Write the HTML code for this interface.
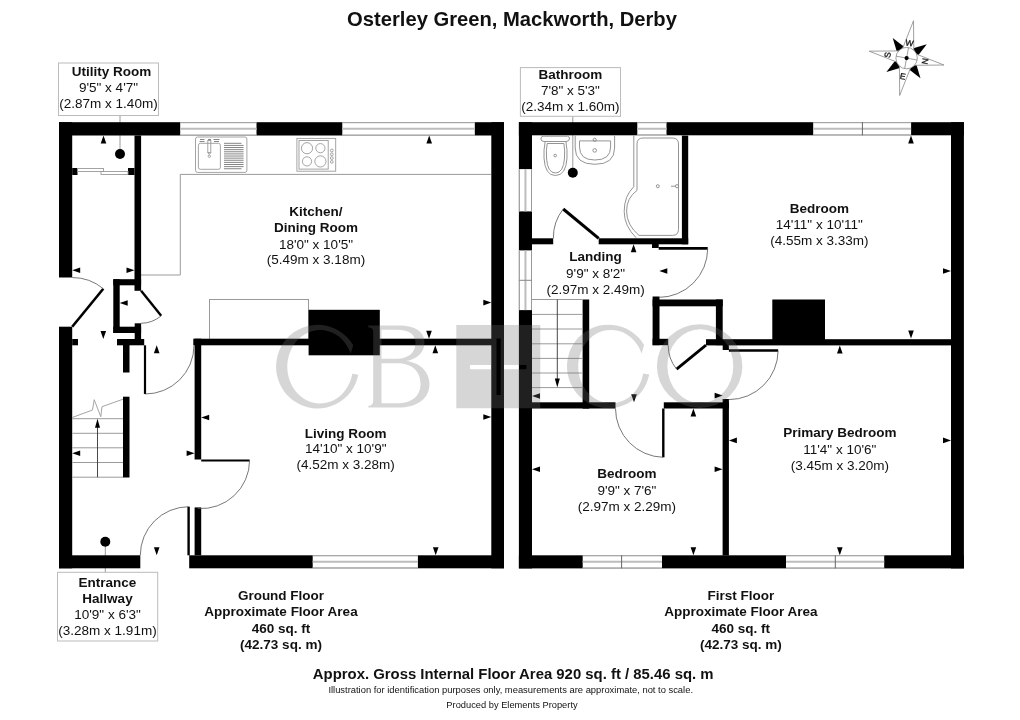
<!DOCTYPE html>
<html><head><meta charset="utf-8"><style>
html,body{margin:0;padding:0;background:#fff;width:1020px;height:720px;overflow:hidden}
svg{display:block;font-family:"Liberation Sans",sans-serif;will-change:transform}
</style></head><body>
<svg width="1020" height="720" viewBox="0 0 1020 720">
<rect width="1020" height="720" fill="#fff"/>
<line x1="572.8" y1="116.3" x2="572.8" y2="172.8" stroke="#9a9a9a" stroke-width="1"/>
<line x1="105.3" y1="541.7" x2="105.3" y2="572.3" stroke="#9a9a9a" stroke-width="1"/>
<line x1="120" y1="115.5" x2="120" y2="154" stroke="#9a9a9a" stroke-width="1"/>
<path d="M141,275 H180.3 V174.4 H491" fill="none" stroke="#9a9a9a" stroke-width="1"/>
<rect x="209.5" y="299.5" width="99" height="40" fill="none" stroke="#9a9a9a" stroke-width="1"/>
<rect x="59.00" y="122.20" width="445.00" height="13.30" fill="#000"/>
<rect x="59.00" y="122.20" width="13.20" height="155.30" fill="#000"/>
<rect x="59.00" y="326.70" width="13.20" height="241.60" fill="#000"/>
<rect x="59.00" y="555.30" width="81.30" height="13.00" fill="#000"/>
<rect x="189.20" y="555.30" width="314.80" height="13.00" fill="#000"/>
<rect x="491.30" y="122.20" width="12.70" height="446.10" fill="#000"/>
<rect x="180.20" y="122.20" width="76.30" height="13.30" fill="#fff"/>
<line x1="180.20" y1="122.70" x2="256.50" y2="122.70" stroke="#9a9a9a" stroke-width="1"/>
<line x1="180.20" y1="135.00" x2="256.50" y2="135.00" stroke="#9a9a9a" stroke-width="1"/>
<line x1="180.20" y1="128.85" x2="256.50" y2="128.85" stroke="#bdbdbd" stroke-width="2"/>
<rect x="342.30" y="122.20" width="132.50" height="13.30" fill="#fff"/>
<line x1="342.30" y1="122.70" x2="474.80" y2="122.70" stroke="#9a9a9a" stroke-width="1"/>
<line x1="342.30" y1="135.00" x2="474.80" y2="135.00" stroke="#9a9a9a" stroke-width="1"/>
<line x1="342.30" y1="128.85" x2="474.80" y2="128.85" stroke="#bdbdbd" stroke-width="2"/>
<rect x="312.70" y="555.30" width="105.20" height="13.00" fill="#fff"/>
<line x1="312.70" y1="555.80" x2="417.90" y2="555.80" stroke="#9a9a9a" stroke-width="1"/>
<line x1="312.70" y1="567.80" x2="417.90" y2="567.80" stroke="#9a9a9a" stroke-width="1"/>
<line x1="312.70" y1="561.80" x2="417.90" y2="561.80" stroke="#bdbdbd" stroke-width="2"/>
<rect x="134.50" y="135.50" width="6.60" height="155.30" fill="#000"/>
<rect x="72.20" y="168.00" width="5.30" height="7.00" fill="#000"/>
<rect x="128.00" y="168.00" width="6.50" height="7.00" fill="#000"/>
<rect x="113.30" y="279.20" width="27.80" height="6.10" fill="#000"/>
<rect x="113.30" y="279.20" width="6.40" height="53.80" fill="#000"/>
<rect x="113.30" y="326.70" width="27.80" height="6.30" fill="#000"/>
<rect x="134.70" y="323.30" width="6.40" height="15.70" fill="#000"/>
<rect x="117.00" y="339.00" width="27.20" height="6.30" fill="#000"/>
<rect x="123.00" y="345.00" width="6.50" height="27.50" fill="#000"/>
<rect x="72.20" y="339.00" width="5.80" height="6.30" fill="#000"/>
<rect x="123.00" y="396.70" width="6.50" height="80.80" fill="#000"/>
<rect x="193.30" y="338.70" width="310.70" height="6.60" fill="#000"/>
<rect x="194.60" y="338.70" width="6.60" height="120.80" fill="#000"/>
<rect x="194.60" y="507.40" width="6.60" height="47.90" fill="#000"/>
<rect x="308.60" y="309.80" width="71.20" height="45.50" fill="#000"/>
<rect x="77.5" y="168.5" width="26" height="3" fill="none" stroke="#9a9a9a" stroke-width="0.9"/>
<rect x="101" y="171.5" width="27" height="3" fill="none" stroke="#9a9a9a" stroke-width="0.9"/>
<line x1="72.20" y1="326.70" x2="103.30" y2="288.70" stroke="#000" stroke-width="2.6"/>
<path d="M103.30,288.70 A49.10,49.10 0 0 0 72.20,277.50" fill="none" stroke="#555" stroke-width="0.8"/>
<line x1="141.10" y1="290.80" x2="161.20" y2="315.80" stroke="#000" stroke-width="2.4"/>
<path d="M161.20,315.80 A32.08,32.08 0 0 1 141.10,323.30" fill="none" stroke="#555" stroke-width="0.8"/>
<line x1="145.00" y1="345.30" x2="145.00" y2="394.00" stroke="#000" stroke-width="2.2"/>
<path d="M145.00,394.00 A48.70,48.70 0 0 0 194.00,345.30" fill="none" stroke="#555" stroke-width="0.8"/>
<rect x="187.40" y="506.70" width="2.40" height="48.60" fill="#000"/>
<line x1="188.60" y1="555.30" x2="188.60" y2="506.70" stroke="#000" stroke-width="0.1"/>
<path d="M188.60,506.70 A48.60,48.60 0 0 0 140.30,555.30" fill="none" stroke="#555" stroke-width="0.8"/>
<line x1="201.20" y1="460.50" x2="249.60" y2="460.50" stroke="#000" stroke-width="2.2"/>
<path d="M249.60,460.50 A48.40,48.40 0 0 1 197.90,508.50" fill="none" stroke="#555" stroke-width="0.8"/>
<line x1="72.20" y1="418.70" x2="123.00" y2="418.70" stroke="#9a9a9a" stroke-width="1"/>
<line x1="72.20" y1="433.30" x2="123.00" y2="433.30" stroke="#9a9a9a" stroke-width="1"/>
<line x1="72.20" y1="447.80" x2="123.00" y2="447.80" stroke="#9a9a9a" stroke-width="1"/>
<line x1="72.20" y1="462.50" x2="123.00" y2="462.50" stroke="#9a9a9a" stroke-width="1"/>
<line x1="72.20" y1="477.20" x2="123.00" y2="477.20" stroke="#9a9a9a" stroke-width="1"/>
<polyline points="72.2,417.5 92.5,410 94.2,399.7 100.8,416.7 102,406.7 123,399.2" fill="none" stroke="#9a9a9a" stroke-width="0.9"/>
<line x1="97.50" y1="426.00" x2="97.50" y2="477.20" stroke="#333" stroke-width="0.9"/>
<polygon points="97.50,418.80 95.00,427.80 100.00,427.80" fill="#000"/>
<circle cx="120" cy="154" r="5" fill="#000"/>
<circle cx="105.3" cy="541.7" r="5" fill="#000"/>
<g fill="none" stroke="#9a9a9a" stroke-width="0.9">
<rect x="195.5" y="137" width="51.4" height="35.4" rx="2"/>
<rect x="198.4" y="143.3" width="22" height="26" rx="2"/>
<rect x="207.8" y="140.5" width="3" height="12" />
<path d="M207.8,152.5 L209.3,154.5 L210.8,152.5"/><circle cx="209.3" cy="156.2" r="1.2"/>
<path d="M199.5,141.5 h5 M200,139.5 h4.5 M208,139.5 h3 M213.5,139.5 h6 M214,141.5 h5" stroke="#888" stroke-width="1.2"/>
</g>
<g fill="none" stroke="#777" stroke-width="0.9">
<line x1="224" y1="143.30" x2="241.5" y2="143.30"/>
<line x1="224" y1="145.42" x2="243.6" y2="145.42"/>
<line x1="224" y1="147.54" x2="243.6" y2="147.54"/>
<line x1="224" y1="149.66" x2="243.6" y2="149.66"/>
<line x1="224" y1="151.78" x2="243.6" y2="151.78"/>
<line x1="224" y1="153.90" x2="243.6" y2="153.90"/>
<line x1="224" y1="156.02" x2="243.6" y2="156.02"/>
<line x1="224" y1="158.14" x2="243.6" y2="158.14"/>
<line x1="224" y1="160.26" x2="243.6" y2="160.26"/>
<line x1="224" y1="162.38" x2="243.6" y2="162.38"/>
<line x1="224" y1="164.50" x2="243.6" y2="164.50"/>
<line x1="224" y1="166.62" x2="243.6" y2="166.62"/>
<line x1="224" y1="168.74" x2="241.5" y2="168.74"/>
</g>
<g fill="none" stroke="#9a9a9a" stroke-width="0.9">
<rect x="296.9" y="138.4" width="38.8" height="32.8"/>
<rect x="299" y="140.5" width="29.2" height="28.6"/>
<circle cx="307" cy="148.2" r="5.6"/><circle cx="320.4" cy="148.2" r="4.6"/><circle cx="307" cy="161.4" r="4.6"/><circle cx="320.4" cy="161.4" r="5.6"/>
<circle cx="331.8" cy="150.5" r="1.4"/>
<circle cx="331.8" cy="154.3" r="1.4"/>
<circle cx="331.8" cy="158.1" r="1.4"/>
<circle cx="331.8" cy="161.9" r="1.4"/>
</g>
<polygon points="103.50,135.50 100.70,143.50 106.30,143.50" fill="#000"/>
<polygon points="72.20,270.30 80.20,267.50 80.20,273.10" fill="#000"/>
<polygon points="134.50,270.30 126.50,267.50 126.50,273.10" fill="#000"/>
<polygon points="119.70,303.00 127.70,300.20 127.70,305.80" fill="#000"/>
<polygon points="103.30,339.00 100.50,331.00 106.10,331.00" fill="#000"/>
<polygon points="156.70,345.30 153.90,353.30 159.50,353.30" fill="#000"/>
<polygon points="72.20,453.30 80.20,450.50 80.20,456.10" fill="#000"/>
<polygon points="194.60,453.30 186.60,450.50 186.60,456.10" fill="#000"/>
<polygon points="156.70,555.30 153.90,547.30 159.50,547.30" fill="#000"/>
<polygon points="429.20,135.50 426.40,143.50 432.00,143.50" fill="#000"/>
<polygon points="491.30,302.60 483.30,299.80 483.30,305.40" fill="#000"/>
<polygon points="429.00,338.70 426.20,330.70 431.80,330.70" fill="#000"/>
<polygon points="435.30,345.30 432.50,353.30 438.10,353.30" fill="#000"/>
<polygon points="201.20,417.50 209.20,414.70 209.20,420.30" fill="#000"/>
<polygon points="491.30,417.00 483.30,414.20 483.30,419.80" fill="#000"/>
<polygon points="435.70,555.30 432.90,547.30 438.50,547.30" fill="#000"/>
<rect x="518.90" y="122.20" width="445.00" height="13.10" fill="#000"/>
<rect x="518.90" y="122.20" width="13.10" height="446.20" fill="#000"/>
<rect x="518.90" y="555.30" width="445.00" height="13.10" fill="#000"/>
<rect x="951.00" y="122.20" width="12.90" height="446.20" fill="#000"/>
<rect x="637.30" y="122.20" width="29.20" height="13.10" fill="#fff"/>
<line x1="637.30" y1="122.70" x2="666.50" y2="122.70" stroke="#9a9a9a" stroke-width="1"/>
<line x1="637.30" y1="134.80" x2="666.50" y2="134.80" stroke="#9a9a9a" stroke-width="1"/>
<line x1="637.30" y1="128.75" x2="666.50" y2="128.75" stroke="#bdbdbd" stroke-width="2"/>
<rect x="813.20" y="122.20" width="97.90" height="13.10" fill="#fff"/>
<line x1="813.20" y1="122.70" x2="911.10" y2="122.70" stroke="#9a9a9a" stroke-width="1"/>
<line x1="813.20" y1="134.80" x2="911.10" y2="134.80" stroke="#9a9a9a" stroke-width="1"/>
<line x1="813.20" y1="128.75" x2="911.10" y2="128.75" stroke="#bdbdbd" stroke-width="2"/>
<line x1="862.40" y1="122.20" x2="862.40" y2="135.30" stroke="#666" stroke-width="1"/>
<rect x="518.90" y="169.10" width="13.10" height="42.30" fill="#fff"/>
<line x1="519.40" y1="169.10" x2="519.40" y2="211.40" stroke="#9a9a9a" stroke-width="1"/>
<line x1="531.50" y1="169.10" x2="531.50" y2="211.40" stroke="#9a9a9a" stroke-width="1"/>
<line x1="525.45" y1="169.10" x2="525.45" y2="211.40" stroke="#bdbdbd" stroke-width="2"/>
<rect x="518.90" y="250.40" width="13.10" height="59.70" fill="#fff"/>
<line x1="519.40" y1="250.40" x2="519.40" y2="310.10" stroke="#9a9a9a" stroke-width="1"/>
<line x1="531.50" y1="250.40" x2="531.50" y2="310.10" stroke="#9a9a9a" stroke-width="1"/>
<line x1="525.45" y1="250.40" x2="525.45" y2="310.10" stroke="#bdbdbd" stroke-width="2"/>
<line x1="518.90" y1="280.30" x2="532.00" y2="280.30" stroke="#888" stroke-width="1"/>
<rect x="582.70" y="555.30" width="79.30" height="13.10" fill="#fff"/>
<line x1="582.70" y1="555.80" x2="662.00" y2="555.80" stroke="#9a9a9a" stroke-width="1"/>
<line x1="582.70" y1="567.90" x2="662.00" y2="567.90" stroke="#9a9a9a" stroke-width="1"/>
<line x1="582.70" y1="561.85" x2="662.00" y2="561.85" stroke="#bdbdbd" stroke-width="2"/>
<line x1="621.60" y1="555.30" x2="621.60" y2="568.40" stroke="#666" stroke-width="1"/>
<rect x="786.00" y="555.30" width="98.20" height="13.10" fill="#fff"/>
<line x1="786.00" y1="555.80" x2="884.20" y2="555.80" stroke="#9a9a9a" stroke-width="1"/>
<line x1="786.00" y1="567.90" x2="884.20" y2="567.90" stroke="#9a9a9a" stroke-width="1"/>
<line x1="786.00" y1="561.85" x2="884.20" y2="561.85" stroke="#bdbdbd" stroke-width="2"/>
<line x1="835.30" y1="555.30" x2="835.30" y2="568.40" stroke="#666" stroke-width="1"/>
<rect x="681.90" y="135.60" width="6.30" height="108.70" fill="#000"/>
<rect x="532.00" y="238.30" width="21.20" height="6.00" fill="#000"/>
<rect x="598.70" y="238.30" width="89.50" height="6.00" fill="#000"/>
<rect x="652.00" y="244.00" width="6.70" height="4.00" fill="#000"/>
<rect x="652.60" y="296.50" width="6.90" height="48.70" fill="#000"/>
<rect x="652.60" y="299.50" width="70.10" height="6.80" fill="#000"/>
<rect x="715.90" y="299.50" width="6.80" height="45.70" fill="#000"/>
<rect x="652.60" y="338.80" width="15.60" height="6.40" fill="#000"/>
<rect x="706.00" y="339.20" width="246.00" height="6.20" fill="#000"/>
<rect x="722.70" y="345.00" width="6.20" height="5.00" fill="#000"/>
<rect x="772.30" y="299.50" width="52.70" height="45.50" fill="#000"/>
<rect x="582.60" y="299.50" width="6.60" height="109.10" fill="#000"/>
<rect x="532.00" y="402.30" width="83.50" height="6.20" fill="#000"/>
<rect x="663.80" y="402.30" width="65.20" height="6.20" fill="#000"/>
<rect x="722.60" y="399.00" width="6.30" height="156.50" fill="#000"/>
<line x1="598.70" y1="238.40" x2="563.20" y2="209.00" stroke="#000" stroke-width="3"/>
<path d="M563.20,209.00 A46.09,46.09 0 0 0 553.40,238.40" fill="none" stroke="#555" stroke-width="0.8"/>
<line x1="658.70" y1="248.40" x2="707.70" y2="248.40" stroke="#000" stroke-width="2.6"/>
<path d="M707.70,248.40 A49.00,49.00 0 0 1 658.70,297.40" fill="none" stroke="#555" stroke-width="0.8"/>
<line x1="706.00" y1="345.20" x2="676.60" y2="369.20" stroke="#000" stroke-width="2.8"/>
<path d="M676.60,369.20 A37.95,37.95 0 0 1 668.20,345.20" fill="none" stroke="#555" stroke-width="0.8"/>
<line x1="728.90" y1="350.50" x2="778.10" y2="350.50" stroke="#000" stroke-width="2.6"/>
<path d="M778.10,350.50 A49.20,49.20 0 0 1 728.90,399.60" fill="none" stroke="#555" stroke-width="0.8"/>
<line x1="663.30" y1="408.50" x2="663.30" y2="457.30" stroke="#000" stroke-width="2.4"/>
<path d="M663.30,457.30 A48.80,48.80 0 0 1 615.50,408.50" fill="none" stroke="#555" stroke-width="0.8"/>
<line x1="532.00" y1="299.50" x2="582.60" y2="299.50" stroke="#9a9a9a" stroke-width="1"/>
<line x1="532.00" y1="314.40" x2="582.60" y2="314.40" stroke="#9a9a9a" stroke-width="1"/>
<line x1="532.00" y1="329.00" x2="582.60" y2="329.00" stroke="#9a9a9a" stroke-width="1"/>
<line x1="532.00" y1="343.80" x2="582.60" y2="343.80" stroke="#9a9a9a" stroke-width="1"/>
<line x1="532.00" y1="358.40" x2="582.60" y2="358.40" stroke="#9a9a9a" stroke-width="1"/>
<line x1="532.00" y1="373.00" x2="582.60" y2="373.00" stroke="#9a9a9a" stroke-width="1"/>
<line x1="532.00" y1="387.60" x2="582.60" y2="387.60" stroke="#9a9a9a" stroke-width="1"/>
<line x1="557.30" y1="299.50" x2="557.30" y2="379.00" stroke="#333" stroke-width="0.9"/>
<polygon points="557.30,387.40 554.80,378.40 559.80,378.40" fill="#000"/>
<g fill="none" stroke="#888" stroke-width="0.9">
<path d="M543,136.2 H567.5 A2.5,2.5 0 0 1 569.5,139 Q569,141.5 566,141.5 H544 Q541,141.5 541,139 A2.5,2.5 0 0 1 543,136.2 Z"/>
<path d="M545.2,141.5 Q543.5,150 544,158 Q545,175.5 555.4,175.5 Q566,175.5 567,158 Q567.5,150 565.9,141.5"/>
<path d="M547.2,143.5 Q546,150 546.5,158 Q547.5,173 555.4,173 Q563.5,173 564.5,158 Q565,150 563.9,143.5 Z"/>
<circle cx="555.2" cy="155.6" r="1.3"/>
<path d="M575.2,135.6 V148 Q575.2,164.3 594.9,164.3 Q614.6,164.3 614.6,148 V135.6"/>
<path d="M579.5,140.9 H610.6 V147 Q610.6,160 594.9,160 Q579.5,160 579.5,147 Z"/>
<circle cx="594.7" cy="139.8" r="1.6"/><circle cx="594.7" cy="150.4" r="1.8"/>
<path d="M633.8,135.6 V186.7 Q624.2,196 624.2,211.4 Q624.2,226 636.2,237.8"/>
<path d="M643,138 H672.5 Q678.5,138 678.5,144 V229.4 Q678.5,235.4 672.5,235.4 H639 Q626.6,225 626.6,211 Q626.6,198 637,190.4 V144 Q637,138 643,138 Z"/>
<circle cx="657.8" cy="186.2" r="1.5"/><circle cx="677" cy="186.2" r="1.6"/><line x1="671" y1="186.2" x2="675.5" y2="186.2"/>
</g>
<circle cx="572.8" cy="172.8" r="5" fill="#000"/>
<polygon points="633.60,244.30 630.80,252.30 636.40,252.30" fill="#000"/>
<polygon points="659.30,271.00 667.30,268.20 667.30,273.80" fill="#000"/>
<polygon points="911.00,135.50 908.20,143.50 913.80,143.50" fill="#000"/>
<polygon points="951.00,271.00 943.00,268.20 943.00,273.80" fill="#000"/>
<polygon points="911.00,338.60 908.20,330.60 913.80,330.60" fill="#000"/>
<polygon points="532.00,396.00 540.00,393.20 540.00,398.80" fill="#000"/>
<polygon points="634.00,402.30 631.20,394.30 636.80,394.30" fill="#000"/>
<polygon points="722.60,395.60 714.60,392.80 714.60,398.40" fill="#000"/>
<polygon points="693.40,408.50 690.60,416.50 696.20,416.50" fill="#000"/>
<polygon points="532.00,469.20 540.00,466.40 540.00,472.00" fill="#000"/>
<polygon points="722.60,469.20 714.60,466.40 714.60,472.00" fill="#000"/>
<polygon points="693.40,555.30 690.60,547.30 696.20,547.30" fill="#000"/>
<polygon points="839.80,345.40 837.00,353.40 842.60,353.40" fill="#000"/>
<polygon points="728.90,440.40 736.90,437.60 736.90,443.20" fill="#000"/>
<polygon points="951.00,440.40 943.00,437.60 943.00,443.20" fill="#000"/>
<polygon points="839.80,555.30 837.00,547.30 842.60,547.30" fill="#000"/>
<g fill="#707070" fill-opacity="0.286">
<path d="M644.1,345 A41.5,41.8 0 1 0 649.2,374.5 L643.2,373.5 A32.8,36.7 0 1 1 641.6,353.4 Z"/>
<path transform="translate(-290.9,0.2)" d="M644.1,345 A41.5,41.8 0 1 0 649.2,374.5 L643.2,373.5 A32.8,36.7 0 1 1 641.6,353.4 Z"/>
<path fill-rule="evenodd" d="M368.3,325.6 H398 C417,325.6 424.5,333 424.5,342.5 C424.5,352 417,359.5 406,361 C420,362.5 429.5,372 429.5,384 C429.5,398 418,407.6 398,407.6 H368.3 V406 Q373.2,405.5 373.2,401 V332 Q373.2,327.5 368.3,327.2 Z M381.5,329.8 H397 C409.5,329.8 415.5,335 415.5,343 C415.5,352 409,358.7 397,358.7 H381.5 Z M381.5,363.3 H397 C412,363.3 420.5,371 420.5,384 C420.5,396 412,403.3 397,403.3 H381.5 Z"/>
<path fill-rule="evenodd" d="M656.9,366.15 A42.75,41.85 0 1 0 742.4,366.15 A42.75,41.85 0 1 0 656.9,366.15 Z M667.4,366.15 A32.95,36.85 0 1 1 733.3,366.15 A32.95,36.85 0 1 1 667.4,366.15 Z"/>
<path fill-rule="evenodd" d="M456.3,325 H540.3 V408.2 H456.3 Z M496.5,338.6 H500.7 V395 H496.5 Z M470,365 H491.3 V369.2 H470 Z M504,365 H526.4 V369.2 H504 Z"/>
</g>
<polygon points="920.48,78.29 915.23,60.66 905.90,67.07" fill="#000"/>
<polygon points="886.41,71.98 904.04,66.73 897.63,57.40" fill="#000"/>
<polygon points="892.72,37.91 897.97,55.54 907.30,49.13" fill="#000"/>
<polygon points="926.79,44.22 909.16,49.47 915.57,58.80" fill="#000"/>
<polygon points="943.96,65.02 915.66,53.87 906.60,58.10 913.54,65.30" fill="#fff" stroke="#888" stroke-width="0.8"/>
<polygon points="899.68,95.46 910.83,67.16 906.60,58.10 899.40,65.04" fill="#fff" stroke="#888" stroke-width="0.8"/>
<polygon points="869.24,51.18 897.54,62.33 906.60,58.10 899.66,50.90" fill="#fff" stroke="#888" stroke-width="0.8"/>
<polygon points="913.52,20.74 902.37,49.04 906.60,58.10 913.80,51.16" fill="#fff" stroke="#888" stroke-width="0.8"/>
<circle cx="906.6" cy="58.1" r="10.7" fill="#fff" stroke="#888" stroke-width="0.8"/>
<line x1="896.08" y1="56.15" x2="917.12" y2="60.05" stroke="#888" stroke-width="0.8"/>
<line x1="908.55" y1="47.58" x2="904.65" y2="68.62" stroke="#888" stroke-width="0.8"/>
<circle cx="906.6" cy="58.1" r="2.1" fill="#000"/>
<text x="909.40" y="42.90" font-size="8.5" text-anchor="middle" dominant-baseline="central" transform="rotate(10 909.40 42.90)" fill="#111" stroke="#111" stroke-width="0.3">W</text>
<text x="925.10" y="61.30" font-size="8.5" text-anchor="middle" dominant-baseline="central" transform="rotate(100 925.10 61.30)" fill="#111" stroke="#111" stroke-width="0.3">N</text>
<text x="902.90" y="76.20" font-size="8.5" text-anchor="middle" dominant-baseline="central" transform="rotate(10 902.90 76.20)" fill="#111" stroke="#111" stroke-width="0.3">E</text>
<text x="887.60" y="54.80" font-size="8.5" text-anchor="middle" dominant-baseline="central" transform="rotate(-80 887.60 54.80)" fill="#111" stroke="#111" stroke-width="0.3">S</text>
<rect x="58.5" y="63" width="100" height="52.5" fill="#fff" stroke="#bbb" stroke-width="1"/>
<rect x="57.5" y="572.3" width="100.2" height="68.7" fill="#fff" stroke="#bbb" stroke-width="1"/>
<rect x="520.4" y="67.6" width="100.1" height="48.7" fill="#fff" stroke="#bbb" stroke-width="1"/>
<text x="512.00" y="25.80" font-size="20.2" font-weight="bold" text-anchor="middle" fill="#111">Osterley Green, Mackworth, Derby</text>
<text x="111.50" y="75.70" font-size="13.5" font-weight="bold" text-anchor="middle" fill="#111">Utility Room</text>
<text x="108.50" y="91.90" font-size="13.5" font-weight="normal" text-anchor="middle" fill="#111">9'5&quot; x 4'7&quot;</text>
<text x="108.50" y="108.00" font-size="13.5" font-weight="normal" text-anchor="middle" fill="#111">(2.87m x 1.40m)</text>
<text x="316.00" y="216.20" font-size="13.5" font-weight="bold" text-anchor="middle" fill="#111">Kitchen/</text>
<text x="316.00" y="232.40" font-size="13.5" font-weight="bold" text-anchor="middle" fill="#111">Dining Room</text>
<text x="316.00" y="248.50" font-size="13.5" font-weight="normal" text-anchor="middle" fill="#111">18'0&quot; x 10'5&quot;</text>
<text x="316.00" y="264.40" font-size="13.5" font-weight="normal" text-anchor="middle" fill="#111">(5.49m x 3.18m)</text>
<text x="345.70" y="437.80" font-size="13.5" font-weight="bold" text-anchor="middle" fill="#111">Living Room</text>
<text x="345.70" y="453.30" font-size="13.5" font-weight="normal" text-anchor="middle" fill="#111">14'10&quot; x 10'9&quot;</text>
<text x="345.70" y="469.00" font-size="13.5" font-weight="normal" text-anchor="middle" fill="#111">(4.52m x 3.28m)</text>
<text x="107.50" y="586.70" font-size="13.5" font-weight="bold" text-anchor="middle" fill="#111">Entrance</text>
<text x="107.50" y="602.70" font-size="13.5" font-weight="bold" text-anchor="middle" fill="#111">Hallway</text>
<text x="107.50" y="619.00" font-size="13.5" font-weight="normal" text-anchor="middle" fill="#111">10'9&quot; x 6'3&quot;</text>
<text x="107.50" y="635.00" font-size="13.5" font-weight="normal" text-anchor="middle" fill="#111">(3.28m x 1.91m)</text>
<text x="570.40" y="79.00" font-size="13.5" font-weight="bold" text-anchor="middle" fill="#111">Bathroom</text>
<text x="570.40" y="95.00" font-size="13.5" font-weight="normal" text-anchor="middle" fill="#111">7'8&quot; x 5'3&quot;</text>
<text x="570.40" y="111.00" font-size="13.5" font-weight="normal" text-anchor="middle" fill="#111">(2.34m x 1.60m)</text>
<text x="595.60" y="261.00" font-size="13.5" font-weight="bold" text-anchor="middle" fill="#111">Landing</text>
<text x="595.60" y="277.80" font-size="13.5" font-weight="normal" text-anchor="middle" fill="#111">9'9&quot; x 8'2&quot;</text>
<text x="595.60" y="294.00" font-size="13.5" font-weight="normal" text-anchor="middle" fill="#111">(2.97m x 2.49m)</text>
<text x="819.30" y="212.70" font-size="13.5" font-weight="bold" text-anchor="middle" fill="#111">Bedroom</text>
<text x="819.30" y="229.30" font-size="13.5" font-weight="normal" text-anchor="middle" fill="#111">14'11&quot; x 10'11&quot;</text>
<text x="819.30" y="245.00" font-size="13.5" font-weight="normal" text-anchor="middle" fill="#111">(4.55m x 3.33m)</text>
<text x="626.90" y="478.40" font-size="13.5" font-weight="bold" text-anchor="middle" fill="#111">Bedroom</text>
<text x="626.90" y="494.70" font-size="13.5" font-weight="normal" text-anchor="middle" fill="#111">9'9&quot; x 7'6&quot;</text>
<text x="626.90" y="511.00" font-size="13.5" font-weight="normal" text-anchor="middle" fill="#111">(2.97m x 2.29m)</text>
<text x="839.80" y="437.00" font-size="13.5" font-weight="bold" text-anchor="middle" fill="#111">Primary Bedroom</text>
<text x="839.80" y="454.00" font-size="13.5" font-weight="normal" text-anchor="middle" fill="#111">11'4&quot; x 10'6&quot;</text>
<text x="839.80" y="470.00" font-size="13.5" font-weight="normal" text-anchor="middle" fill="#111">(3.45m x 3.20m)</text>
<text x="281.00" y="600.00" font-size="13.5" font-weight="bold" text-anchor="middle" fill="#111">Ground Floor</text>
<text x="281.00" y="616.20" font-size="13.5" font-weight="bold" text-anchor="middle" fill="#111">Approximate Floor Area</text>
<text x="281.00" y="632.60" font-size="13.5" font-weight="bold" text-anchor="middle" fill="#111">460 sq. ft</text>
<text x="281.00" y="649.00" font-size="13.5" font-weight="bold" text-anchor="middle" fill="#111">(42.73 sq. m)</text>
<text x="740.80" y="600.00" font-size="13.5" font-weight="bold" text-anchor="middle" fill="#111">First Floor</text>
<text x="740.80" y="616.20" font-size="13.5" font-weight="bold" text-anchor="middle" fill="#111">Approximate Floor Area</text>
<text x="740.80" y="632.60" font-size="13.5" font-weight="bold" text-anchor="middle" fill="#111">460 sq. ft</text>
<text x="740.80" y="649.00" font-size="13.5" font-weight="bold" text-anchor="middle" fill="#111">(42.73 sq. m)</text>
<text x="513.20" y="679.30" font-size="14.9" font-weight="bold" text-anchor="middle" fill="#111">Approx. Gross Internal Floor Area 920 sq. ft / 85.46 sq. m</text>
<text x="510.70" y="693.20" font-size="9.4" font-weight="normal" text-anchor="middle" fill="#111">Illustration for identification purposes only, measurements are approximate, not to scale.</text>
<text x="512.00" y="708.40" font-size="9.3" font-weight="normal" text-anchor="middle" fill="#111">Produced by Elements Property</text>
</svg></body></html>
